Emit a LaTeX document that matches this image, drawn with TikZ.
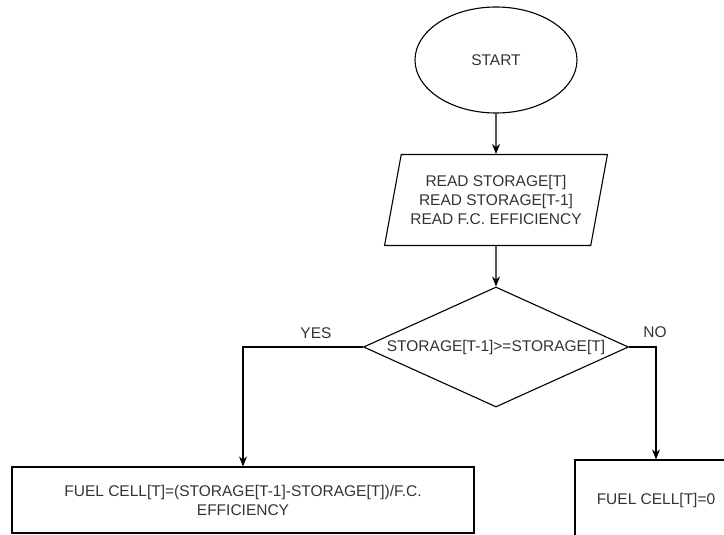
\documentclass[tikz,border=0pt]{standalone}
\usepackage{fontspec}
\setmainfont{Liberation Sans}
\usetikzlibrary{shapes.geometric,arrows.meta}

\begin{document}
\begin{tikzpicture}[x=1pt,y=-1pt,
  every node/.style={font=\fontsize{15.5}{19}\selectfont,text=black!80,inner sep=0pt},
  startnode/.style={ellipse,draw=black,line width=1.1pt,minimum width=162pt,minimum height=106pt},
  inputnode/.style={trapezium,trapezium left angle=73,trapezium right angle=107,trapezium stretches=true,draw=black,line width=1.1pt,minimum width=223pt,minimum height=91pt,align=center},
  testnode/.style={diamond,shape aspect=2.2,draw=black,line width=1.1pt,minimum width=265pt,minimum height=120pt},
  procnode/.style={rectangle,draw=black,line width=1.1pt,align=center},
  flow/.style={draw=black,line width=1.1pt,-{Stealth[length=10pt,width=8pt]}}]
\useasboundingbox (0,0) rectangle (724,535);
\clip (0,0) rectangle (724,535);
\node[startnode] (start) at (496,60) {START};
\node[inputnode] (read) at (496,200) {READ STORAGE[T]\\READ STORAGE[T-1]\\READ F.C. EFFICIENCY};
\node[testnode] (cond) at (496,347) {STORAGE[T-1]>=STORAGE[T]};
\node[procnode,minimum width=462pt,minimum height=66pt] (fcyes) at (243,500) {FUEL CELL[T]=(STORAGE[T-1]-STORAGE[T])/F.C.\\EFFICIENCY};
\node[procnode,minimum width=162pt,minimum height=80pt] (fcno) at (656,500) {FUEL CELL[T]=0};
\node (yeslbl) at (316,333) {YES};
\node (nolbl) at (655,332) {NO};
\draw[flow] (start.south) -- (read.north);
\draw[flow] (read.south) -- (cond.north);
\draw[flow] (cond.west) -| (fcyes.north);
\draw[flow] (cond.east) -| (fcno.north);
\end{tikzpicture}
\end{document}
